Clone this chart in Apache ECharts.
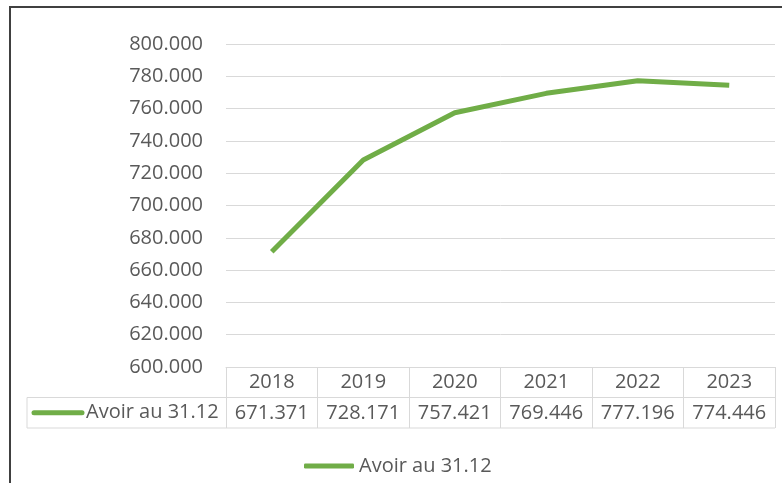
<!DOCTYPE html>
<html>
<head>
<meta charset="utf-8">
<script src="https://cdn.jsdelivr.net/npm/echarts@6/dist/echarts.min.js"></script>
<style>
html, body { margin: 0; padding: 0; background: #fff; }
#chart { width: 782px; height: 483px; }
</style>
</head>
<body>
<div id="chart"></div>
<script>
// data
let years = ["2018", "2019", "2020", "2021", "2022", "2023"];
let avoir = [671371, 728171, 757421, 769446, 777196, 774446];
let seriesName = "Avoir au 31.12";

let green = "#70AD47";
let txt = "#595959";
let font = "Open Sans";

// 800000 -> "800.000"
function fmt(v) {
    return String(Math.round(v)).replace(/\B(?=(\d{3})+(?!\d))/g, ".");
}

let chart = echarts.init(document.getElementById("chart"));

let option = {
    animation: false,
    textStyle: { fontFamily: font },
    grid: { left: 226, right: 7, top: 44, bottom: 116 },
    legend: {
        bottom: 7,
        left: 304,
        padding: 0,
        itemWidth: 50,
        itemHeight: 5,
        icon: "roundRect",
        textStyle: { fontSize: 20, color: txt, fontFamily: font },
        data: [seriesName]
    },
    xAxis: [{
        type: "category",
        data: years,
        boundaryGap: true,
        axisLine: { lineStyle: { color: "#d9d9d9", width: 1 } },
        axisTick: { show: true, length: 61, interval: 0, lineStyle: { color: "#d9d9d9" } },
        axisLabel: { fontSize: 20, color: txt, margin: 5, interval: 0 },
        splitLine: { show: false }
    }, {
        type: "category",
        data: years,
        position: "bottom",
        offset: 31,
        axisLine: { show: false },
        axisTick: { show: false },
        axisLabel: {
            fontSize: 20, color: txt, margin: 5, interval: 0,
            formatter: function (v, i) { return fmt(avoir[i]); }
        }
    }],
    yAxis: {
        type: "value",
        min: 600000,
        max: 800000,
        interval: 20000,
        axisLine: { show: false },
        axisTick: { show: false },
        axisLabel: { fontSize: 20, color: txt, margin: 23, formatter: fmt },
        splitLine: { lineStyle: { color: "#d9d9d9", width: 1 } }
    },
    series: [{
        name: seriesName,
        type: "line",
        data: avoir,
        showSymbol: false,
        symbol: "none",
        lineStyle: { color: green, width: 5 },
        itemStyle: { color: green }
    }]
};
chart.setOption(option);

// data table lines and legend key, placed from the axis scale
let x0 = chart.convertToPixel({ xAxisIndex: 0 }, 0) - 45.75;
let xEnd = chart.convertToPixel({ xAxisIndex: 0 }, years.length - 1) + 45.75;
let yAxisPx = chart.convertToPixel({ yAxisIndex: 0 }, 600000);
let row1 = yAxisPx + 30.5, row2 = yAxisPx + 61;
let lineCol = "#d9d9d9";

chart.setOption({
    graphic: [
        { type: "rect", shape: { x: 10, y: 7, width: 800, height: 500 },
          style: { fill: null, stroke: "#404040", lineWidth: 2 }, silent: true },
        { type: "line", shape: { x1: 27, y1: row1, x2: xEnd, y2: row1 }, style: { stroke: lineCol, lineWidth: 1 } },
        { type: "line", shape: { x1: 27, y1: row2, x2: xEnd, y2: row2 }, style: { stroke: lineCol, lineWidth: 1 } },
        { type: "line", shape: { x1: 27, y1: row1, x2: 27, y2: row2 }, style: { stroke: lineCol, lineWidth: 1 } },
        { type: "line", shape: { x1: 34, y1: (row1 + row2) / 2, x2: 82, y2: (row1 + row2) / 2 },
          style: { stroke: green, lineWidth: 5, lineCap: "round" } },
        { type: "text", x: 86, y: (row1 + row2) / 2,
          style: { text: seriesName, fontSize: 20, fill: txt, fontFamily: font, verticalAlign: "middle" } }
    ]
});
</script>
</body>
</html>
